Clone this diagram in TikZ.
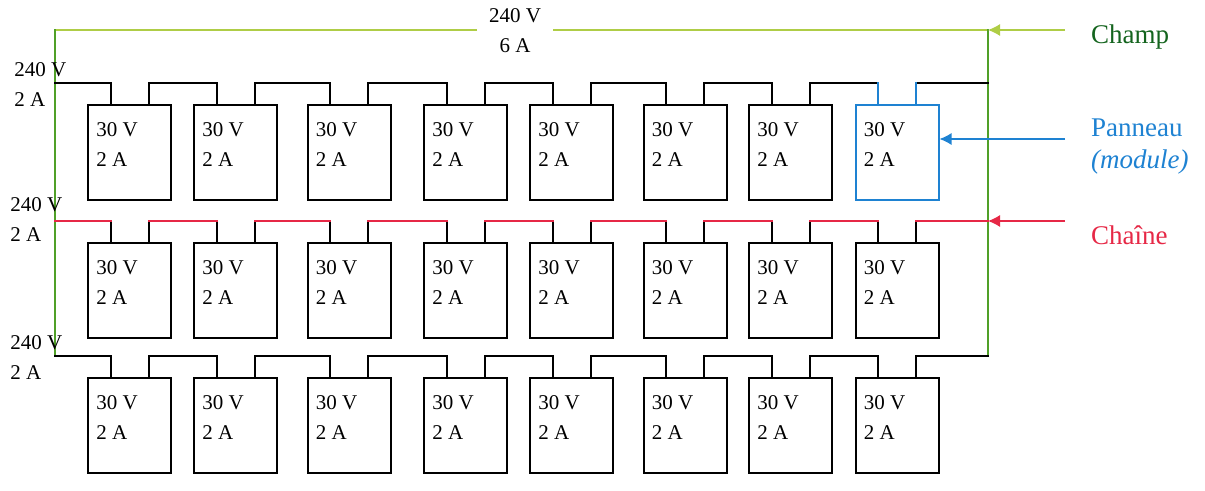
\documentclass[tikz,border=0pt]{standalone}
\usepackage{fontspec}
\setmainfont{Liberation Serif}
\usetikzlibrary{arrows.meta}
\definecolor{fieldgreen}{RGB}{175,205,70}
\definecolor{railgreen}{RGB}{80,160,40}
\definecolor{labelgreen}{RGB}{20,100,30}
\definecolor{panelblue}{RGB}{30,130,210}
\definecolor{stringred}{RGB}{230,40,70}
\tikzset{
  panel/.style={draw, line width=1pt, minimum width=41.5pt, minimum height=47.5pt, inner sep=0pt},
  wire/.style={line width=1pt, line cap=rect},
  tag/.style={font=\fontsize{10.5}{15}\selectfont, align=left, inner sep=1pt},
  legend/.style={anchor=west, font=\fontsize{13.5}{16}\selectfont, align=left}
}
\begin{document}
\begin{tikzpicture}[x=0.5pt, y=-0.5pt]
\useasboundingbox (0,0) rectangle (1205,491);

% Panels
\foreach \r/\y in {1/152.5, 2/290.5, 3/425.5} {
  \foreach \c/\x in {1/129.5, 2/235.5, 3/349, 4/465.5, 5/571.5, 6/685, 7/790.5, 8/897} {
    \node [panel] (p\r\c) at (\x,\y) {};
    \node [tag, anchor=north west] at ([xshift=3.5pt, yshift=-8pt]p\r\c.north west) {30 V\\2 A};
  }
}
\node [panel, draw=panelblue] at (p18) {};

% Rails
\coordinate (L0) at (55,30);
\coordinate (L1) at (55,83);
\coordinate (L2) at (55,221);
\coordinate (L3) at (55,356);
\coordinate (R0) at (988,30);
\coordinate (R1) at (988,83);
\coordinate (R2) at (988,221);
\coordinate (R3) at (988,356);
\draw [wire, fieldgreen] (L0) -- (R0);
\draw [wire, railgreen] (L0) -- (L3);
\draw [wire, railgreen] (R0) -- (R3);
\node [tag, fill=white, align=center, inner xsep=6pt] (field) at (515,31) {240 V\\6 A};

% Strings: black leads, coloured runs
\foreach \r/\col in {1/black, 2/stringred, 3/black} {
  \foreach \c in {1,...,8} {
    \draw [wire] ([xshift=-9.5pt]p\r\c.north) -- ([xshift=-9.5pt]p\r\c.north |- L\r);
    \draw [wire] ([xshift=9.5pt]p\r\c.north) -- ([xshift=9.5pt]p\r\c.north |- L\r);
  }
  \draw [wire, \col] (L\r) -- ([xshift=-9.5pt]p\r1.north |- L\r);
  \foreach \c [evaluate=\c as \d using int(\c+1)] in {1,...,7} {
    \draw [wire, \col] ([xshift=9.5pt]p\r\c.north |- L\r) -- ([xshift=-9.5pt]p\r\d.north |- L\r);
  }
  \draw [wire, \col] ([xshift=9.5pt]p\r8.north |- L\r) -- (R\r);
}
\draw [wire, panelblue] ([xshift=-9.5pt]p18.north) -- ([xshift=-9.5pt]p18.north |- L1);
\draw [wire, panelblue] ([xshift=9.5pt]p18.north) -- ([xshift=9.5pt]p18.north |- L1);

% Left labels
\node [tag, anchor=north west] (v1) at (12,60) {240 V\\2 A};
\node [tag, anchor=north west] (v2) at (8,195) {240 V\\2 A};
\node [tag, anchor=north west] (v3) at (8,333) {240 V\\2 A};

% Legend
\node [legend, text=labelgreen] (champ) at (1084,37) {Champ};
\node [legend, text=panelblue] (panneau) at (1084,147) {Panneau\\\textit{(module)}};
\node [legend, text=stringred] (chaine) at (1084,235) {Chaîne};
\coordinate (a0) at (1065,30);
\coordinate (a1) at (1065,139);
\coordinate (a2) at (1065,221);
\draw [fieldgreen, line width=0.6pt, -{Latex[length=6pt, width=6pt]}] (a0) -- (R0);
\draw [panelblue, line width=0.6pt, -{Latex[length=6pt, width=6pt]}] (a1) -- (p18.east |- a1);
\draw [stringred, line width=0.6pt, -{Latex[length=6pt, width=6pt]}] (a2) -- (R2);
\end{tikzpicture}
\end{document}
